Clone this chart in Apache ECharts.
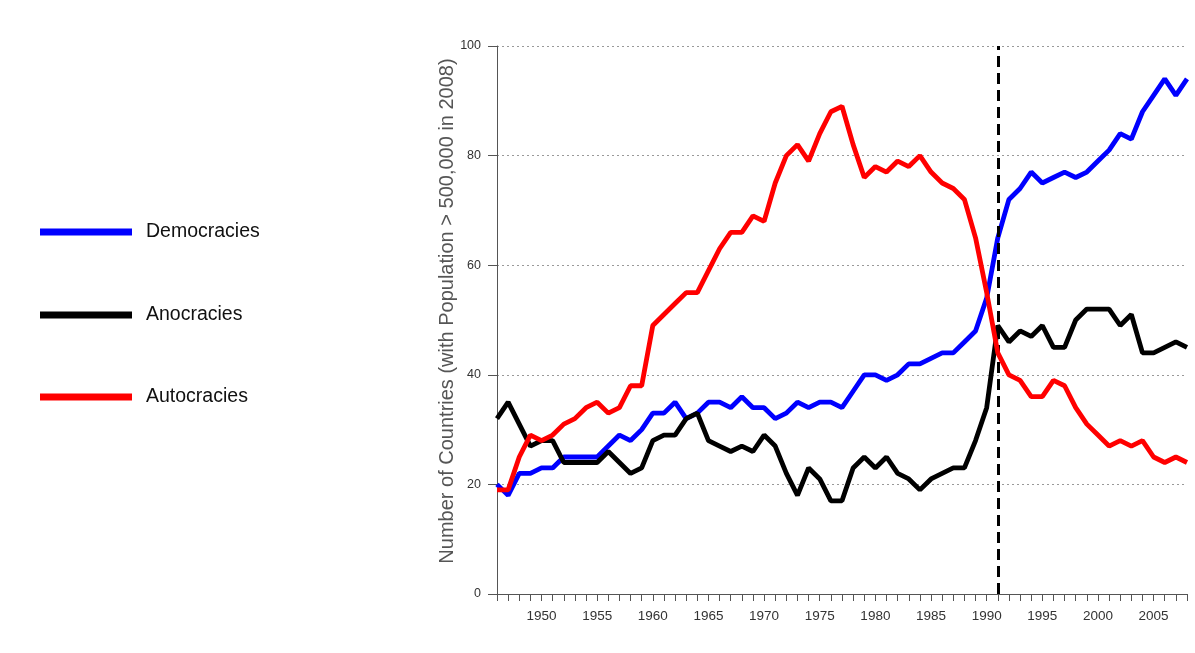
<!DOCTYPE html>
<html>
<head>
<meta charset="utf-8">
<script src="https://cdn.jsdelivr.net/npm/echarts@6/dist/echarts.min.js"></script>
<style>
html,body{margin:0;padding:0;background:#fff;}
#chart{width:1195px;height:653px;}
</style>
</head>
<body>
<div id="chart"></div>
<script>
var years = [];
for (var y = 1946; y <= 2008; y++) years.push(y);

var democracies = [20,18,22,22,23,23,25,25,25,25,27,29,28,30,33,33,35,32,33,35,
  35,34,36,34,34,32,33,35,34,35,35,34,37,40,40,39,40,42,42,43,
  44,44,46,48,54,65,72,74,77,75,76,77,76,77,79,81,84,83,88,91,
  94,91,94];
var anocracies = [32,35,31,27,28,28,24,24,24,24,26,24,22,23,28,29,29,32,33,28,
  27,26,27,26,29,27,22,18,23,21,17,17,23,25,23,25,22,21,19,21,
  22,23,23,28,34,49,46,48,47,49,45,45,50,52,52,52,49,51,44,44,
  45,46,45];
var autocracies = [19,19,25,29,28,29,31,32,34,35,33,34,38,38,49,51,53,55,55,59,
  63,66,66,69,68,75,80,82,79,84,88,89,82,76,78,77,79,78,80,77,
  75,74,72,65,55,44,40,39,36,36,39,38,34,31,29,27,28,27,28,25,
  24,25,24];

var seriesNames = ['Democracies','Anocracies','Autocracies'];
var seriesColors = ['#0000ff','#000000','#ff0000'];
var seriesValues = [democracies, anocracies, autocracies];
var yTicks = [0,20,40,60,80,100];
var markerYear = 1991;
var yAxisTitle = 'Number of Countries (with Population > 500,000 in 2008)';

function pairs(vals){ return years.map(function(yr,i){ return [yr, vals[i]]; }); }

var series = seriesNames.map(function(name, i){
  return {
    name: name,
    type: 'line',
    data: pairs(seriesValues[i]),
    showSymbol: false,
    symbol: 'none',
    lineStyle: {color: seriesColors[i], width: 4.8},
    itemStyle: {color: seriesColors[i]},
    z: 3 + i,
    animation: false
  };
});
series[1].markLine = {
  silent: true,
  symbol: ['none','none'],
  label: {show: false},
  lineStyle: {color: '#000', type: [11,6], width: 3},
  data: [{xAxis: markerYear}],
  animation: false
};

var legendTops = [217, 300, 382];
var legends = seriesNames.map(function(name, i){
  return {
    data: [name],
    left: 35,
    top: legendTops[i],
    orient: 'vertical',
    icon: 'rect',
    itemWidth: 92,
    itemHeight: 7,
    textStyle: {fontFamily: 'Liberation Sans', fontSize: 19.5, color: '#111', padding: [0,0,0,9]},
    selectedMode: false
  };
});

var chart = echarts.init(document.getElementById('chart'), null, {renderer: 'canvas'});
chart.setOption({
  animation: false,
  backgroundColor: '#fff',
  textStyle: {fontFamily: 'Liberation Sans'},
  legend: legends,
  grid: {left: 497, right: 8, top: 46, bottom: 59, containLabel: false},
  xAxis: {
    type: 'value',
    min: 1946,
    max: 2008,
    interval: 1,
    axisLine: {show: true, onZero: false, lineStyle: {color: '#555', width: 1}},
    axisTick: {show: true, length: 7, lineStyle: {color: '#555'}},
    axisLabel: {
      margin: 15,
      fontSize: 13.5,
      color: '#333',
      fontFamily: 'Liberation Sans',
      showMinLabel: true,
      showMaxLabel: true,
      formatter: function(v){ return v % 5 === 0 ? String(v) : ''; }
    },
    splitLine: {show: false}
  },
  yAxis: {
    type: 'value',
    min: yTicks[0],
    max: yTicks[yTicks.length-1],
    interval: 20,
    name: yAxisTitle,
    nameLocation: 'middle',
    nameGap: 40,
    nameMoveOverlap: false,
    nameTextStyle: {fontFamily: 'Liberation Sans', fontSize: 20, color: '#555', padding: [0,0,0,18]},
    axisLine: {show: true, lineStyle: {color: '#555', width: 1}},
    axisTick: {show: true, length: 9, lineStyle: {color: '#555'}},
    axisLabel: {margin: 16, fontSize: 12.5, color: '#333', fontFamily: 'Liberation Sans'},
    splitLine: {show: true, lineStyle: {color: '#999', type: [2,3], width: 1}}
  },
  series: series
});
</script>
</body>
</html>
